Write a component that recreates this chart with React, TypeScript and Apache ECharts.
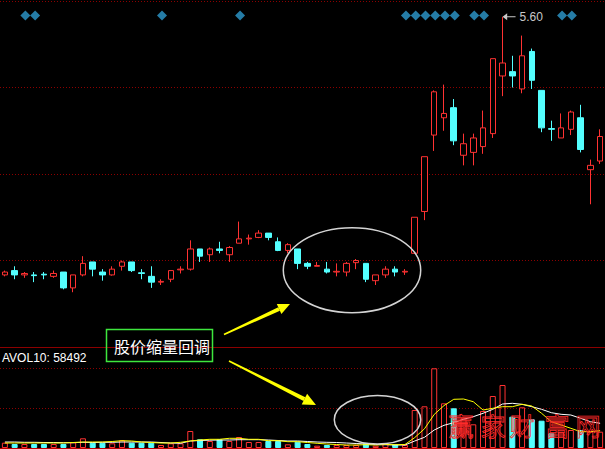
import React, { useEffect, useRef } from 'react';
import * as echarts from 'echarts';

// ---- data ----
const CATEGORIES: string[] = Array.from({ length: 62 }, (_, i) => `D${i + 1}`);

const OPEN = [3.81, 3.84, 3.81, 3.81, 3.815, 3.80, 3.83, 3.72, 3.81, 3.90, 3.83, 3.81, 3.87, 3.90, 3.825, 3.80, 3.76, 3.78, 3.845, 3.85, 3.99, 3.95, 3.99, 3.95, 4.03, 4.06, 4.07, 4.10, 4.04, 3.98, 3.99, 3.89, 3.87, 3.85, 3.83, 3.83, 3.895, 3.89, 3.77, 3.81, 3.85, 3.83, 3.96, 4.25, 4.78, 4.90, 4.97, 4.64, 4.66, 4.70, 4.79, 5.19, 5.22, 5.10, 5.36, 5.09, 4.825, 4.76, 4.82, 4.90, 4.54, 4.60];
const CLOSE = [3.83, 3.81, 3.82, 3.805, 3.81, 3.82, 3.72, 3.81, 3.89, 3.85, 3.81, 3.85, 3.90, 3.84, 3.82, 3.76, 3.765, 3.84, 3.85, 3.99, 3.94, 3.99, 3.98, 4.00, 4.06, 4.065, 4.10, 4.07, 3.98, 4.02, 3.89, 3.87, 3.875, 3.83, 3.835, 3.89, 3.91, 3.78, 3.81, 3.85, 3.83, 3.835, 4.21, 4.63, 5.08, 4.93, 4.74, 4.72, 4.76, 4.83, 5.31, 5.28, 5.19, 5.33, 5.16, 4.83, 4.82, 4.83, 4.94, 4.68, 4.57, 4.77];
const LOW = [3.80, 3.78, 3.79, 3.76, 3.78, 3.79, 3.71, 3.69, 3.80, 3.80, 3.77, 3.805, 3.84, 3.83, 3.78, 3.72, 3.74, 3.76, 3.82, 3.84, 3.90, 3.90, 3.96, 3.90, 4.03, 4.02, 4.065, 4.05, 3.975, 3.96, 3.85, 3.85, 3.87, 3.82, 3.80, 3.80, 3.85, 3.76, 3.74, 3.79, 3.80, 3.81, 3.96, 4.19, 4.67, 4.81, 4.71, 4.57, 4.57, 4.65, 4.76, 5.05, 5.11, 5.07, 5.10, 4.80, 4.74, 4.76, 4.78, 4.66, 4.30, 4.58];
const HIGH = [3.84, 3.87, 3.83, 3.83, 3.83, 3.84, 3.83, 3.81, 3.94, 3.90, 3.85, 3.87, 3.91, 3.90, 3.85, 3.87, 3.78, 3.84, 3.87, 4.05, 3.99, 4.00, 4.04, 4.01, 4.18, 4.09, 4.12, 4.10, 4.07, 4.03, 3.99, 3.90, 3.90, 3.90, 3.89, 3.90, 3.92, 3.89, 3.81, 3.87, 3.87, 3.85, 4.21, 4.63, 5.09, 5.13, 5.03, 4.79, 4.79, 4.95, 5.31, 5.60, 5.33, 5.47, 5.38, 5.09, 4.88, 4.93, 4.95, 4.99, 4.61, 4.82];

const VOLUME = [13250, 10000, 10000, 10000, 10000, 10000, 10000, 14250, 24250, 13250, 13250, 11750, 19250, 13250, 13250, 13250, 7500, 11750, 11750, 42500, 21750, 17500, 21750, 17500, 27500, 15000, 15000, 17500, 17500, 9250, 15750, 10000, 5750, 7500, 7500, 7500, 7500, 11750, 5750, 11750, 9250, 7500, 95000, 104250, 199250, 111750, 99250, 74250, 59250, 92500, 130000, 157500, 78250, 101750, 71750, 68250, 36750, 40750, 45000, 45000, 40750, 40750];
const VOL_MA5 = [12500, 12500, 12500, 12500, 12500, 12500, 12500, 13750, 15000, 15000, 15000, 16250, 18250, 17500, 15000, 13750, 12500, 12500, 14250, 17500, 20000, 21750, 21750, 24250, 24250, 21750, 21750, 18250, 18250, 15750, 15750, 13750, 11750, 10000, 8750, 7500, 7500, 8250, 7500, 8750, 8250, 8750, 26000, 48000, 84000, 106000, 121750, 122500, 115750, 95000, 99250, 103250, 103250, 109250, 105000, 86750, 65750, 57500, 49250, 40750, 40750, 43250];
const VOL_MA10 = [15000, 15000, 14250, 14250, 13750, 13750, 13250, 13250, 14250, 13750, 14250, 14250, 15000, 15000, 15000, 15000, 13750, 12500, 11750, 17500, 18750, 19500, 20000, 20000, 20750, 20750, 20750, 20000, 18750, 17500, 17500, 16250, 15000, 14250, 13750, 12500, 11250, 10000, 8750, 8250, 7500, 7500, 17500, 26750, 45000, 56750, 63250, 71750, 78250, 86750, 96750, 110000, 111750, 109250, 103250, 96750, 88250, 84250, 82500, 74250, 65750, 61750];

const SIGNAL_IDX = [2, 3, 16, 24, 41, 42, 43, 44, 45, 46, 48, 49, 57, 58];
const SIGNAL_LEVEL = 5.61;

const AVOL_LABEL = 'AVOL10';
const AVOL_VALUE = 58492;
const NOTE_TEXT = '股价缩量回调';
const WATERMARK = ['赢', '家', '财', '富', '网'];

// ---- styles ----
const UP = '#ff3232';
const DOWN = '#54ffff';
const GRID_RED = '#8c0000';
const DOTTED = [1, 2];

export default function App() {
  const ref = useRef<HTMLDivElement>(null);

  useEffect(() => {
    document.body.style.margin = '0';
    document.body.style.background = '#000';
    const chart = echarts.init(ref.current as HTMLDivElement, null, { renderer: 'svg' });

    const candleData = OPEN.map((o, i) => [o, CLOSE[i], LOW[i], HIGH[i]]);
    const volData = VOLUME.map((v, i) => ({
      value: v,
      itemStyle:
        CLOSE[i] >= OPEN[i]
          ? { color: 'transparent', borderColor: UP, borderWidth: 1 }
          : { color: DOWN, borderColor: DOWN, borderWidth: 1 },
    }));

    const hiddenAxisBase = {
      axisLine: { show: false },
      axisTick: { show: false },
      axisLabel: { show: false },
    };

    const wmX = [461, 493, 522, 557, 588];

    const option: any = {
      animation: false,
      backgroundColor: '#000',
      grid: [
        { left: -7.7, width: 620, top: 1, height: 346 },
        { left: -7.7, width: 620, top: 348, height: 100 },
      ],
      xAxis: [
        {
          gridIndex: 0,
          type: 'category',
          data: CATEGORIES,
          boundaryGap: true,
          axisLine: { show: true, onZero: false, lineStyle: { color: GRID_RED, width: 1 } },
          axisTick: { show: false },
          axisLabel: { show: false },
          splitLine: { show: false },
        },
        {
          gridIndex: 1,
          type: 'category',
          data: CATEGORIES,
          boundaryGap: true,
          axisLine: { show: true, onZero: false, lineStyle: { color: '#c00000', width: 1 } },
          axisTick: { show: false },
          axisLabel: { show: false },
          splitLine: { show: false },
        },
      ],
      yAxis: [
        {
          gridIndex: 0,
          type: 'value',
          min: 3.31,
          max: 5.71,
          ...hiddenAxisBase,
          splitLine: { show: false },
        },
        {
          gridIndex: 1,
          type: 'value',
          min: 0,
          max: 250000,
          interval: 100000,
          ...hiddenAxisBase,
          splitLine: {
            show: true,
            showMinLine: false,
            showMaxLine: false,
            lineStyle: { color: GRID_RED, type: DOTTED, width: 1 },
          },
        },
        {
          gridIndex: 0,
          type: 'value',
          min: 0,
          max: 4,
          interval: 1,
          ...hiddenAxisBase,
          splitLine: {
            show: true,
            showMinLine: false,
            lineStyle: { color: GRID_RED, type: DOTTED, width: 1 },
          },
        },
      ],
      series: [
        {
          type: 'candlestick',
          xAxisIndex: 0,
          yAxisIndex: 0,
          data: candleData,
          barWidth: 6,
          silent: true,
          itemStyle: {
            color: '#000',
            color0: DOWN,
            borderColor: UP,
            borderColor0: DOWN,
            borderWidth: 1,
          },
          markPoint: {
            silent: true,
            symbol: 'path://M0,3.5 L5,0 L5,3 L14,3 L14,4 L5,4 L5,7 Z',
            symbolSize: [13, 7],
            symbolOffset: [6.5, 0],
            itemStyle: { color: '#c8c8c8' },
            label: {
              show: true,
              position: 'right',
              distance: 4,
              color: '#c8c8c8',
              fontSize: 12,
              fontFamily: 'Liberation Sans',
              formatter: (p: any) => Number(p.value).toFixed(2),
            },
            data: [{ type: 'max', valueDim: 'highest' }],
          },
        },
        {
          type: 'scatter',
          xAxisIndex: 0,
          yAxisIndex: 0,
          silent: true,
          symbol: 'diamond',
          symbolSize: 10,
          symbolOffset: [1, 0],
          itemStyle: { color: '#2e9bd0' },
          data: SIGNAL_IDX.map((i) => [i, SIGNAL_LEVEL]),
        },
        {
          type: 'bar',
          xAxisIndex: 1,
          yAxisIndex: 1,
          silent: true,
          barWidth: 6,
          data: volData,
        },
        {
          type: 'line',
          xAxisIndex: 1,
          yAxisIndex: 1,
          silent: true,
          symbol: 'none',
          lineStyle: { color: '#ffffff', width: 1 },
          data: VOL_MA10,
        },
        {
          type: 'line',
          xAxisIndex: 1,
          yAxisIndex: 1,
          silent: true,
          symbol: 'none',
          lineStyle: { color: '#ffff00', width: 1 },
          data: VOL_MA5,
        },
      ],
      graphic: [
        {
          type: 'text',
          x: 2,
          y: 357.5,
          z: 100,
          style: {
            text: `${AVOL_LABEL}: ${AVOL_VALUE}`,
            fill: '#ffffff',
            font: '12px "Liberation Sans"',
            verticalAlign: 'middle',
          },
        },
        {
          type: 'ellipse',
          z: 100,
          shape: { cx: 352, cy: 270.2, rx: 68.7, ry: 42.5 },
          style: { fill: 'none', stroke: '#d4d4d4', lineWidth: 1.5 },
        },
        {
          type: 'ellipse',
          z: 100,
          shape: { cx: 377.5, cy: 419.7, rx: 43.2, ry: 24.3 },
          style: { fill: 'none', stroke: '#d4d4d4', lineWidth: 1.5 },
        },
        {
          type: 'polygon',
          z: 100,
          shape: { points: [[224.34, 335.23], [279.94, 310.82], [278.26, 307.18], [223.66, 333.77]] },
          style: { fill: '#ffff00' },
        },
        {
          type: 'polygon',
          z: 100,
          shape: { points: [[290, 304], [281.4, 314.0], [276.8, 304.0]] },
          style: { fill: '#ffff00' },
        },
        {
          type: 'polygon',
          z: 100,
          shape: { points: [[228.64, 361.71], [303.5, 400.9], [305.3, 397.3], [229.36, 360.29]] },
          style: { fill: '#ffff00' },
        },
        {
          type: 'polygon',
          z: 100,
          shape: { points: [[316, 405], [301.7, 404.5], [307.1, 393.7]] },
          style: { fill: '#ffff00' },
        },
        {
          type: 'rect',
          z: 100,
          shape: { x: 106.5, y: 329.5, width: 106, height: 32 },
          style: { fill: 'none', stroke: '#3ee63e', lineWidth: 1.5 },
        },
        {
          type: 'text',
          x: 114,
          y: 345.5,
          z: 101,
          style: {
            text: NOTE_TEXT,
            fill: '#ffffff',
            font: '16px "Noto Sans CJK SC"',
            verticalAlign: 'middle',
          },
        },
        ...WATERMARK.map((ch, i) => ({
          type: 'text',
          x: wmX[i],
          y: 425,
          z: 90,
          style: {
            text: ch,
            fill: 'none',
            stroke: '#ff2a2a',
            lineWidth: 0.8,
            font: '25px "Noto Sans CJK SC"',
            align: 'center',
            verticalAlign: 'middle',
          },
        })),
      ],
    };

    chart.setOption(option);
    return () => chart.dispose();
  }, []);

  return <div ref={ref} style={{ width: 605, height: 449 }} />;
}
